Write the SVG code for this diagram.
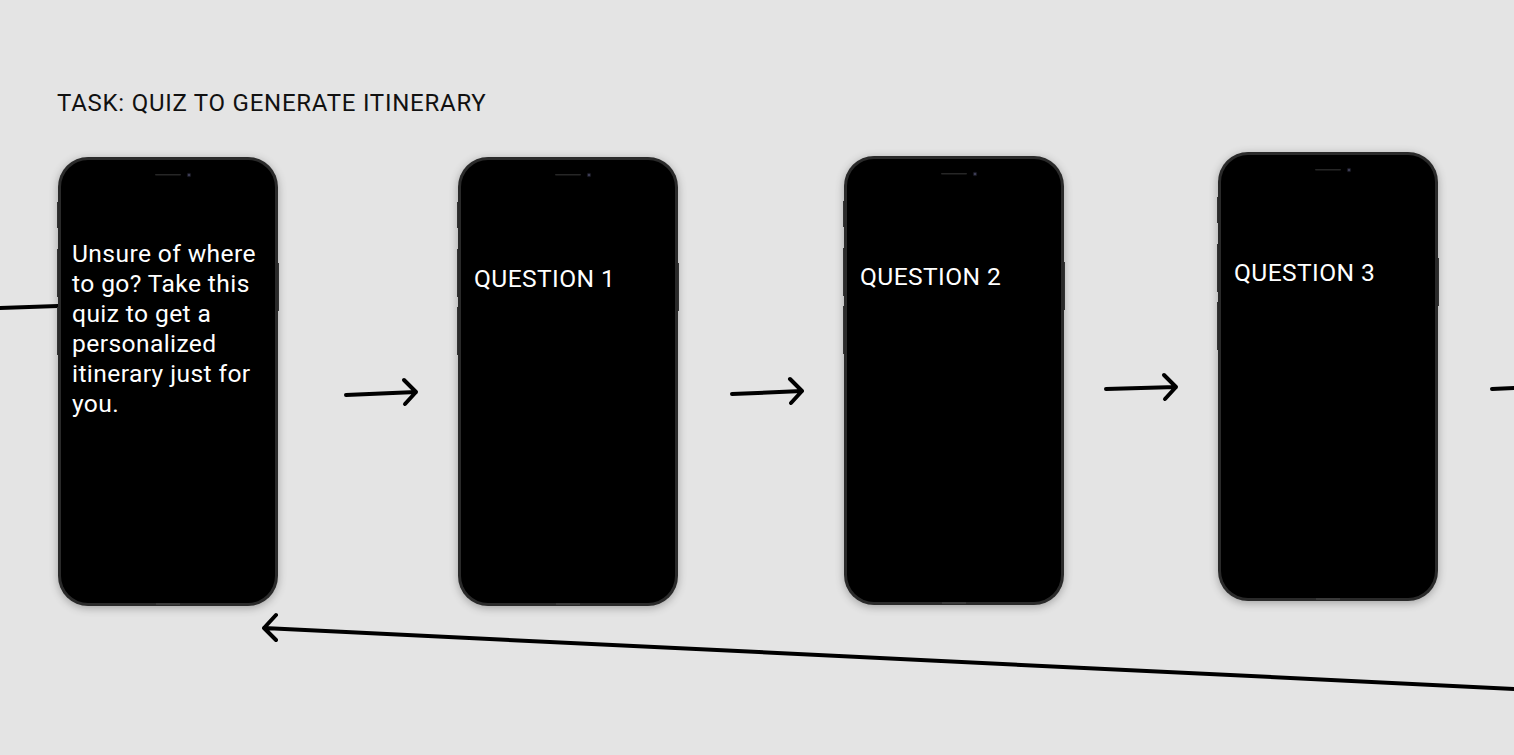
<svg xmlns="http://www.w3.org/2000/svg" width="1514" height="755" viewBox="0 0 1514 755">
  <defs>
    <filter id="shadow" x="-20%" y="-10%" width="140%" height="120%">
      <feGaussianBlur in="SourceAlpha" stdDeviation="5"/>
      <feOffset dy="2"/>
      <feComponentTransfer><feFuncA type="linear" slope="0.3"/></feComponentTransfer>
      <feMerge><feMergeNode/><feMergeNode in="SourceGraphic"/></feMerge>
    </filter>
    <!-- reusable phone body, 220 x 449 -->
    <g id="phone">
      <rect x="-1" y="45" width="1.5" height="26" fill="#3a3a3a"/>
      <rect x="-1" y="92" width="1.5" height="48" fill="#3a3a3a"/>
      <rect x="-1" y="150" width="1.5" height="48" fill="#3a3a3a"/>
      <rect x="219.5" y="106" width="1.5" height="48" fill="#3a3a3a"/>
      <rect x="0" y="0" width="220" height="449" rx="30" fill="#2c2c2c" filter="url(#shadow)"/>
      <rect x="3" y="3" width="214" height="443" rx="27" fill="#000"/>
      <rect x="97" y="17" width="26" height="1.6" rx="0.8" fill="#262626"/>
      <circle cx="131" cy="18" r="2.2" fill="#1a1a24"/>
      <circle cx="131" cy="18" r="1" fill="#4a4a66"/>
      <rect x="98" y="446" width="24" height="2" fill="#3a3a3a"/>
    </g>
  </defs>
  <style>
    .title { font-family: Roboto, "Liberation Sans", sans-serif; font-size: 24px; letter-spacing: 0.75px; fill: #111; }
    .screen { font-family: Roboto, "Liberation Sans", sans-serif; font-size: 24.6px; letter-spacing: 0.4px; fill: #fff; }
    .conn { fill: none; stroke: #000; stroke-width: 4; stroke-linecap: round; stroke-linejoin: round; }
  </style>
  <rect width="1514" height="755" fill="#e4e4e4"/>

  <text class="title" x="57" y="110.5">TASK: QUIZ TO GENERATE ITINERARY</text>

  <g id="connectors">
    <path class="conn" d="M0 308 L58 306"/>
    <path class="conn" d="M346 395 L416 392 M404 380 L416 392 L405 404"/>
    <path class="conn" d="M732 394 L802 391 M790 379 L802 391 L791 403"/>
    <path class="conn" d="M1106 389 L1176 387 M1164 375 L1176 387 L1165 399"/>
    <path class="conn" d="M1492 389 L1516 388"/>
    <path class="conn" d="M1516 689 L264 628 M276 615 L264 628 L276 640"/>
  </g>

  <g id="intro">
    <use href="#phone" x="58" y="157"/>
    <text class="screen" x="72" y="262">Unsure of where</text>
    <text class="screen" x="72" y="292">to go? Take this</text>
    <text class="screen" x="72" y="322">quiz to get a</text>
    <text class="screen" x="72" y="352">personalized</text>
    <text class="screen" x="72" y="382">itinerary just for</text>
    <text class="screen" x="72" y="412">you.</text>
  </g>

  <g id="question1">
    <use href="#phone" x="458" y="157"/>
    <text class="screen" x="474" y="287">QUESTION 1</text>
  </g>

  <g id="question2">
    <use href="#phone" x="844" y="156"/>
    <text class="screen" x="860" y="285">QUESTION 2</text>
  </g>

  <g id="question3">
    <use href="#phone" x="1218" y="152"/>
    <text class="screen" x="1234" y="281">QUESTION 3</text>
  </g>
</svg>
